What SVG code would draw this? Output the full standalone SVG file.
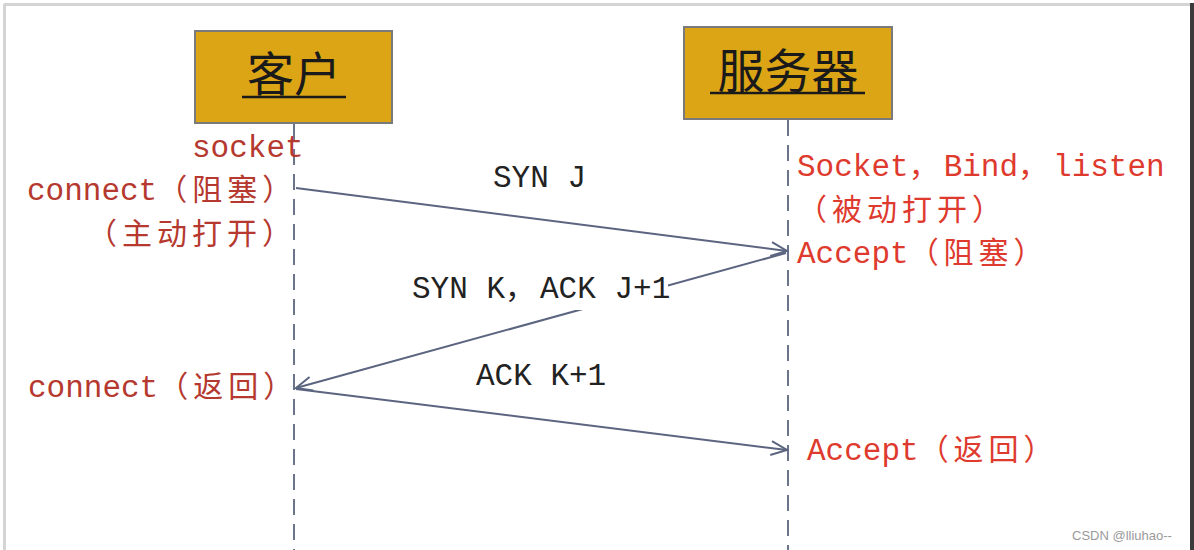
<svg xmlns="http://www.w3.org/2000/svg" width="1194" height="550" viewBox="0 0 1194 550">
<style>
.box{fill:#DBA516;stroke:#7a7a7a;stroke-width:2}
.title{font-family:"Noto Sans CJK SC",sans-serif;font-size:47px;fill:#1a1a1a;text-anchor:middle}
.ul{stroke:#1a1a1a;stroke-width:2.5}
.life{stroke:#6b7488;stroke-width:2;stroke-dasharray:16 9;fill:none}
.msg{stroke:#5c6580;stroke-width:2;fill:none}
.t{font-family:"Liberation Mono","Noto Sans CJK SC",monospace;font-size:31px}
.cj{font-family:"Noto Sans CJK SC",sans-serif;font-size:30px;letter-spacing:5px}
.lr{fill:#B5392F}
.rr{fill:#DE3A2E}
.bk{fill:#222222}
</style>
<defs>
<marker id="arr" viewBox="0 0 20 20" refX="18" refY="10" markerWidth="20" markerHeight="20" markerUnits="userSpaceOnUse" orient="auto">
<path d="M2,3 L18,10 L2,17" fill="none" stroke="#5c6580" stroke-width="2"/>
</marker>
</defs>
<rect x="0" y="0" width="1194" height="550" fill="#ffffff"/>
<g id="frame">
<line x1="4.5" y1="4" x2="4.5" y2="550" stroke="#d4d4d4" stroke-width="3"/>
<line x1="4" y1="4.5" x2="1190" y2="4.5" stroke="#d4d4d4" stroke-width="3"/>
<rect x="1190" y="3" width="4" height="547" fill="#3a3a3a"/>
</g>
<g id="lifelines">
<line class="life" x1="294" y1="124" x2="294" y2="550"/>
<line class="life" x1="788" y1="120" x2="788" y2="550"/>
</g>
<g id="client">
<rect class="box" x="195" y="31" width="197" height="92"/>
<text class="title" x="294" y="91">客户</text>
<line class="ul" x1="242" y1="97" x2="346" y2="97"/>
</g>
<g id="server">
<rect class="box" x="684" y="27" width="208" height="92"/>
<text class="title" x="788" y="88">服务器</text>
<line class="ul" x1="710" y1="93" x2="865" y2="93"/>
</g>
<g id="connectors">
<line class="msg" x1="296" y1="188" x2="787" y2="251" marker-end="url(#arr)"/>
<line class="msg" x1="786" y1="253" x2="296" y2="388" marker-end="url(#arr)"/>
<line class="msg" x1="296" y1="389" x2="787" y2="450" marker-end="url(#arr)"/>
</g>
<g id="labels">
<text class="t bk" x="493" y="187">SYN J</text>
<rect x="405" y="264" width="263" height="46" fill="#ffffff"/>
<text class="t bk" x="412" y="298">SYN K<tspan class="cj">，</tspan>ACK J+1</text>
<text class="t bk" x="476" y="385">ACK K+1</text>
</g>
<g id="client-notes">
<text class="t lr" x="192" y="157">socket</text>
<text class="t lr" x="27" y="200">connect<tspan class="cj">（阻塞）</tspan></text>
<text class="t lr cj" x="87" y="244">（主动打开）</text>
<text class="t lr" x="28" y="397">connect<tspan class="cj">（返回）</tspan></text>
</g>
<g id="server-notes">
<text class="t rr" x="797" y="176">Socket<tspan class="cj">，</tspan>Bind<tspan class="cj">，</tspan>listen</text>
<text class="t rr cj" x="797" y="220">（被动打开）</text>
<text class="t rr" x="797" y="263">Accept<tspan class="cj">（阻塞）</tspan></text>
<text class="t rr" x="807" y="460">Accept<tspan class="cj">（返回）</tspan></text>
</g>
<text x="1072" y="540" font-family="Liberation Sans, sans-serif" font-size="13" fill="#9a9a9a">CSDN @lliuhao--</text>
</svg>
